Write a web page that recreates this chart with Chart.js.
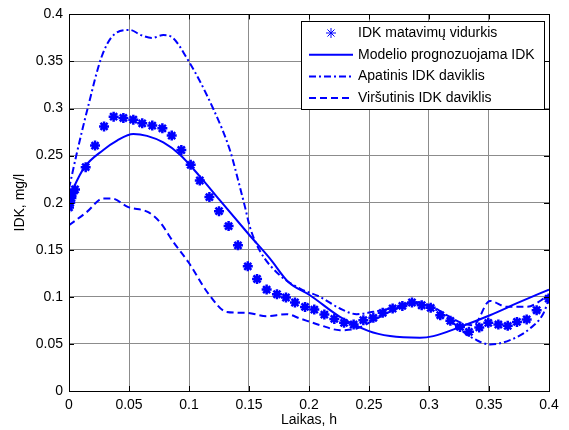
<!DOCTYPE html>
<html>
<head>
<meta charset="utf-8">
<script src="https://cdn.jsdelivr.net/npm/chart.js@4/dist/chart.umd.min.js"></script>
<style>
  html, body { margin: 0; padding: 0; background: #fff; }
  canvas { display: block; }
</style>
</head>
<body>
<canvas id="chart" width="569" height="430"></canvas>
<script>
// IDK matavimų vidurkis (measured averages)
const measT = [0, 0.001, 0.002, 0.003, 0.005, 0.0139, 0.0217, 0.0292, 0.0372, 0.0453, 0.0536, 0.061, 0.0694, 0.0778, 0.0856, 0.0936, 0.1014, 0.109, 0.117, 0.125, 0.133, 0.1408, 0.149, 0.1567, 0.1647, 0.1733, 0.1808, 0.1883, 0.1967, 0.2044, 0.2128, 0.2211, 0.2292, 0.2372, 0.2453, 0.2536, 0.2614, 0.2697, 0.2778, 0.2858, 0.2939, 0.3014, 0.3094, 0.3178, 0.3258, 0.3333, 0.3419, 0.3494, 0.3578, 0.3656, 0.3733, 0.3814, 0.3897, 0.3997];
const measY = [0.195, 0.2, 0.205, 0.21, 0.214, 0.2377, 0.2607, 0.281, 0.2914, 0.29, 0.2882, 0.2843, 0.2819, 0.279, 0.2713, 0.256, 0.2402, 0.2236, 0.206, 0.191, 0.1752, 0.1547, 0.1324, 0.119, 0.1077, 0.1028, 0.0993, 0.094, 0.0893, 0.0865, 0.0812, 0.0766, 0.0724, 0.0706, 0.0752, 0.0777, 0.083, 0.0876, 0.0904, 0.094, 0.0911, 0.0883, 0.0805, 0.0745, 0.0681, 0.0628, 0.0675, 0.0724, 0.0706, 0.0692, 0.0734, 0.076, 0.0858, 0.0982];

// Modelio prognozuojama IDK
const modelT = [0, 0.0125, 0.0286, 0.04, 0.0536, 0.065, 0.0786, 0.0925, 0.109, 0.1258, 0.1494, 0.1675, 0.1828, 0.2008, 0.2258, 0.2494, 0.2675, 0.2925, 0.3036, 0.3258, 0.3508, 0.3758, 0.4];
const modelY = [0.206, 0.237, 0.256, 0.266, 0.273, 0.271, 0.264, 0.251, 0.228, 0.2024, 0.167, 0.1406, 0.1158, 0.1017, 0.0787, 0.0639, 0.0583, 0.0565, 0.0583, 0.068, 0.0805, 0.0946, 0.1077];

// Apatinis IDK daviklis
const lowT = [0, 0.0064, 0.0155, 0.0272, 0.037, 0.0508, 0.06, 0.069, 0.0786, 0.0842, 0.0994, 0.1203, 0.1342, 0.141, 0.1467, 0.1508, 0.159, 0.1758, 0.1925, 0.2092, 0.2258, 0.2397, 0.2536, 0.2675, 0.2869, 0.3008, 0.3147, 0.3286, 0.3397, 0.3508, 0.3675, 0.3842, 0.3953, 0.4];
const lowY = [0.215, 0.252, 0.3, 0.355, 0.378, 0.3835, 0.378, 0.375, 0.378, 0.377, 0.351, 0.2995, 0.2554, 0.2236, 0.1953, 0.174, 0.149, 0.1229, 0.1088, 0.1, 0.0876, 0.0816, 0.0841, 0.0876, 0.0929, 0.0894, 0.0787, 0.0628, 0.054, 0.0494, 0.054, 0.0664, 0.0823, 0.098];

// Viršutinis IDK daviklis
const highT = [0, 0.0147, 0.0286, 0.0356, 0.0494, 0.066, 0.0758, 0.087, 0.0994, 0.1161, 0.1314, 0.148, 0.1647, 0.1814, 0.1925, 0.2092, 0.2258, 0.2397, 0.2564, 0.273, 0.2869, 0.3008, 0.3147, 0.3286, 0.3369, 0.3508, 0.3647, 0.3814, 0.4];
const highY = [0.176, 0.19, 0.2045, 0.2045, 0.1953, 0.19, 0.1794, 0.1582, 0.137, 0.1035, 0.084, 0.083, 0.0795, 0.0816, 0.077, 0.07, 0.0646, 0.0664, 0.077, 0.0876, 0.0946, 0.0911, 0.0805, 0.0716, 0.0699, 0.0957, 0.0894, 0.0894, 0.1017];

const labels = ["IDK matavimų vidurkis", "Modelio prognozuojama IDK", "Apatinis IDK daviklis", "Viršutinis IDK daviklis"];

const blue = "#0000ff";
const font = "'Liberation Sans', Arial, sans-serif";

function pts(xs, ys) {
  return xs.map((x, i) => ({ x: x, y: ys[i] }));
}

function lineSet(label, xs, ys, dash) {
  return {
    label: label,
    data: pts(xs, ys),
    showLine: true,
    borderColor: blue,
    borderWidth: 2,
    borderDash: dash,
    pointRadius: 0,
    cubicInterpolationMode: "monotone",
    fill: false
  };
}

function fmt(v) {
  return String(parseFloat(Number(v).toFixed(2)));
}

// frame, inner ticks and legend box like the MATLAB figure
const framePlugin = {
  id: "frame",
  afterDraw(chart) {
    const ctx = chart.ctx;
    const a = chart.chartArea;
    const xs = chart.scales.x, ys = chart.scales.y;
    ctx.save();
    ctx.strokeStyle = "#000";
    ctx.lineWidth = 1;
    ctx.strokeRect(Math.round(a.left) + 0.5, Math.round(a.top) + 0.5,
      Math.round(a.right - a.left), Math.round(a.bottom - a.top));
    ctx.beginPath();
    xs.ticks.forEach(t => {
      const px = Math.round(xs.getPixelForValue(t.value)) + 0.5;
      ctx.moveTo(px, a.bottom); ctx.lineTo(px, a.bottom - 5);
      ctx.moveTo(px, a.top); ctx.lineTo(px, a.top + 5);
    });
    ys.ticks.forEach(t => {
      const py = Math.round(ys.getPixelForValue(t.value)) + 0.5;
      ctx.moveTo(a.left, py); ctx.lineTo(a.left + 5, py);
      ctx.moveTo(a.right, py); ctx.lineTo(a.right - 5, py);
    });
    ctx.stroke();

    // legend
    const bx = 301, by = 21, bw = 243, bh = 88;
    ctx.fillStyle = "#fff";
    ctx.fillRect(bx, by, bw, bh);
    ctx.strokeRect(bx + 0.5, by + 0.5, bw, bh);
    ctx.font = "14px " + font;
    ctx.textBaseline = "middle";
    chart.data.datasets.forEach((ds, i) => {
      const y = by + 12 + i * 21.7;
      if (ds.showLine) {
        ctx.save();
        ctx.strokeStyle = ds.borderColor;
        ctx.lineWidth = ds.borderWidth;
        ctx.setLineDash(ds.borderDash || []);
        ctx.beginPath();
        ctx.moveTo(309, y);
        ctx.lineTo(353, y);
        ctx.stroke();
        ctx.restore();
      } else {
        ctx.save();
        ctx.strokeStyle = ds.borderColor;
        ctx.fillStyle = ds.backgroundColor;
        Chart.helpers.drawPoint(ctx, {
          pointStyle: ds.pointStyle, radius: ds.pointRadius,
          borderWidth: ds.borderWidth, rotation: 0
        }, 331, y);
        ctx.restore();
      }
      ctx.fillStyle = "#000";
      ctx.fillText(ds.label, 358, y);
    });
    ctx.restore();
  }
};

new Chart(document.getElementById("chart"), {
  type: "scatter",
  data: {
    datasets: [
      {
        label: labels[0],
        data: pts(measT, measY),
        showLine: false,
        pointStyle: "star",
        pointRadius: 5,
        borderWidth: 2.5,
        borderColor: blue,
        backgroundColor: blue
      },
      lineSet(labels[1], modelT, modelY, []),
      lineSet(labels[2], lowT, lowY, [7, 3, 2, 3]),
      lineSet(labels[3], highT, highY, [7, 4])
    ]
  },
  options: {
    responsive: false,
    animation: false,
    layout: { padding: { top: 13, right: 20, left: 0, bottom: 0 } },
    plugins: { legend: { display: false }, tooltip: { enabled: false } },
    scales: {
      x: {
        type: "linear",
        min: 0,
        max: 0.4,
        afterFit(s) { s.height = 39; },
        ticks: { stepSize: 0.05, color: "#000", font: { family: font, size: 14 }, padding: 6, callback: fmt, maxRotation: 0 },
        grid: { color: "#8c8c8c", drawTicks: false },
        border: { display: false },
        title: { display: true, text: "Laikas, h", color: "#000", font: { family: font, size: 14 }, padding: { top: 0, bottom: 1 } }
      },
      y: {
        type: "linear",
        min: 0,
        max: 0.4,
        afterFit(s) { s.width = 69; },
        ticks: { stepSize: 0.05, color: "#000", font: { family: font, size: 14 }, padding: 6, callback: fmt },
        grid: { color: "#8c8c8c", drawTicks: false },
        border: { display: false },
        title: { display: true, text: "IDK, mg/l", color: "#000", font: { family: font, size: 14 }, padding: { top: 12, bottom: 0 } }
      }
    }
  },
  plugins: [framePlugin]
});
</script>
</body>
</html>
